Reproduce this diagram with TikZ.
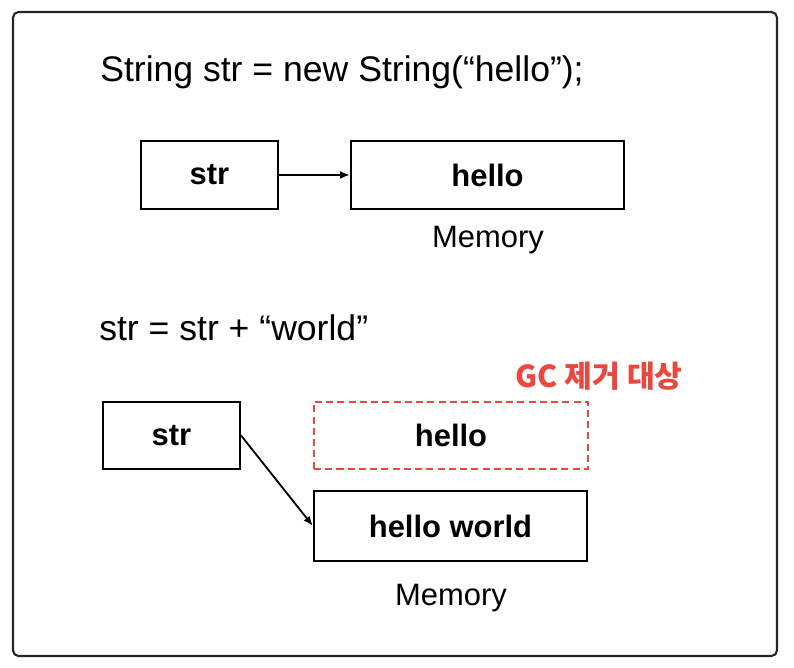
\documentclass[tikz,border=0pt]{standalone}
\usepackage{fontspec}
\setmainfont{Liberation Sans}
\newfontfamily\krfont{Noto Sans CJK KR}
\usepackage{tikz}
\usetikzlibrary{arrows.meta}
\usepackage{xcolor}
\definecolor{gcred}{RGB}{234,72,62}

\tikzset{
    membox/.style={draw, line width=1.4pt, inner sep=0pt, font=\fontsize{22}{26}\selectfont\bfseries},
    plain/.style={inner sep=0pt, font=\fontsize{25.3}{30}\selectfont},
    ptr/.style={-{Latex[length=7pt, width=5.5pt]}, line width=1.3pt},
}

\begin{document}
\begin{tikzpicture}[x=0.025cm, y=-0.025cm]
                \useasboundingbox (0,0) rectangle (794,668);
                \draw[line width=1.5pt, black!85, rounded corners=4pt] (13,12) rectangle (777,656);
                % first part
                \node[plain, anchor=west](code1) at (100,72){String str = new String(“hello”);};
                \node[membox, minimum width=3.43cm, minimum height=1.7cm](str1) at (209.5,175){str};
                \node[membox, minimum width=6.83cm, minimum height=1.7cm](hello1) at (487.5,175){hello};
                \node[plain, font=\fontsize{22}{26}\selectfont](mem1) at (488,240){Memory};
                \path (str1) edge[ptr] (hello1);
                % second part
                \node[plain, anchor=west](code2) at (99,328){str = str + “world”};
                \node[inner sep=0pt, text=gcred, font=\krfont\fontsize{21.5}{25}\selectfont\bfseries](gc) at (599,376){GC 제거 대상};
                \node[membox, minimum width=3.43cm, minimum height=1.68cm](str2) at (171.5,435.5){str};
                \node[membox, draw=gcred, line width=1.7pt, dash pattern=on 5pt off 3pt, minimum width=6.85cm, minimum height=1.68cm](hello2) at (451,435.5){hello};
                \node[membox, minimum width=6.83cm, minimum height=1.75cm](hw) at (450.5,526){hello world};
                \node[plain, font=\fontsize{22}{26}\selectfont](mem2) at (451,598){Memory};
                \path (str2.east) edge[ptr] (hw.west);

                \end{tikzpicture}
\end{document}
